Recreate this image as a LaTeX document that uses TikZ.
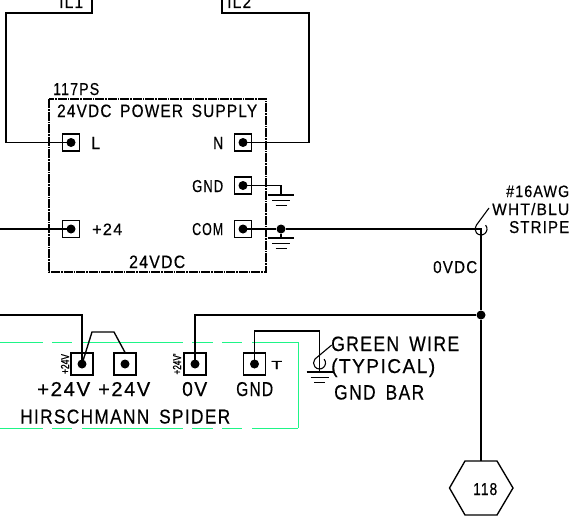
\documentclass[tikz,border=0pt]{standalone}
\usepackage{fontspec}
\usepackage{graphicx}
\setmainfont[LetterSpace=8,WordSpace=1.6,FakeBold=0.5]{Liberation Sans}
\newfontfamily\markfont[FakeBold=1.5]{Liberation Sans}
\usetikzlibrary{shapes.geometric}
\definecolor{spider}{RGB}{30,245,135}
\newcommand{\lbl}[3]{\resizebox{#1pt}{#2pt}{#3}}
\tikzset{
  wire/.style={line width=1.35pt,line join=miter},
  thin wire/.style={line width=1.1pt},
  term/.style={draw,line width=1.2pt,rectangle,inner sep=0pt},
  ps term/.style={term,minimum size=17pt},
  sp term/.style={term,minimum size=22pt},
  dotn/.style={circle,fill=black,inner sep=0pt,minimum size=9pt},
  lab/.style={inner sep=0pt,anchor=base west},
  pwr box/.style={line width=1.15pt,dash pattern=on 9pt off 1pt on 1.5pt off 1pt},
  spider line/.style={draw=spider,line width=.9pt},
  gbar/.style={line width=1.2pt}
}
\begin{document}
\begin{tikzpicture}[x=1pt,y=-1pt]
\path[use as bounding box] (0,0) rectangle (588,519);
\clip (0,0) rectangle (588,519);
% green outline of the Spider
\foreach \a/\b in {0/43,52/72,82/183,192/213,222/242,252/298}{
  \draw[spider line] (\a,342) -- (\b,342);
  \draw[spider line] (\a,428) -- (\b,428);
}
\draw[spider line] (298,342) -- (298,428);
% power supply box
\coordinate (psa) at (49,99);
\coordinate (psb) at (266,272);
\draw[pwr box] (psa) rectangle (psb);
% terminals
\node[ps term] (tL) at (71,142.5) {};
\node[ps term] (tN) at (243,142.5) {};
\node[ps term] (tG) at (243,185.5) {};
\node[ps term] (tC) at (243,229) {};
\node[ps term] (tP) at (71,229) {};
\node[sp term] (s1) at (82,364) {};
\node[sp term] (s2) at (125,364) {};
\node[sp term] (s3) at (195,364) {};
\node[sp term] (s4) at (254.5,364) {};
\foreach \n in {tL,tN,tG,tC,tP,s1,s2,s3,s4}
  \node[dotn] (d\n) at (\n.center) {};
% named free ends
\coordinate (il1) at (92,-2);
\coordinate (il2) at (222,-2);
\coordinate (wP) at (-2,229);
\coordinate (wS) at (-2,315);
\node[dotn] (jC) at (281,229) {};
\node[dotn] (j0) at (481,315) {};
\coordinate (hk) at (481,229);
\coordinate (g1) at (281,195);
\coordinate (g2) at (281,238);
\coordinate (g3) at (319.5,372);
% wires
\draw[wire] (il1) |- (6,13) |- (dtL.center);
\draw[wire] (il2) |- (309,13) |- (dtN.center);
\draw[wire] (wP) -- (dtP.center);
\draw[wire] (dtC.center) -- (jC) -- (hk) -- (j0);
\draw[wire] (jC) -- (g2);
\draw[wire] (dtG.center) -| (g1);
\draw[wire] (wS) -| (ds1.center);
\draw[wire] (ds1.center) -- (92,332) -- (114,332) -- (s2.north);
\draw[wire] (j0) -| (ds3.center);
\draw[wire] (ds4.center) |- (319.5,331) -- (g3);
% hooks
\draw[thin wire] (485.6,225.1) arc (-40:220:6) -- (489,208);
\draw[thin wire] (324.1,359.1) arc (-40:220:6) -- (331.7,345);
% grounds
\foreach \c in {g1,g2,g3}{
  \draw[gbar] ([xshift=-13pt]\c) -- ([xshift=13pt]\c);
  \draw[gbar] ([xshift=-9pt,yshift=-5.5pt]\c) -- ([xshift=9pt,yshift=-5.5pt]\c);
  \draw[gbar] ([xshift=-5.5pt,yshift=-10.5pt]\c) -- ([xshift=5.5pt,yshift=-10.5pt]\c);
}
% hexagon
\coordinate (h1) at (465,461);
\coordinate (h2) at (497,461);
\coordinate (h3) at (513,488);
\coordinate (h4) at (497,515);
\coordinate (h5) at (465,515);
\coordinate (h6) at (449.5,488);
\draw[wire] (h1) -- (h2) -- (h3) -- (h4) -- (h5) -- (h6) -- cycle;
\draw[wire] (j0) -- (481,461);
% labels
\node[lab] (il1t) at (59,8) {\lbl{24}{12}{IL1}};
\node[lab] (il2t) at (227,8) {\lbl{24}{12}{IL2}};
\node[lab] (ps) at (53,95) {\lbl{46}{12}{117PS}};
\node[lab] (pst) at (57,117) {\lbl{200}{12.5}{24VDC POWER SUPPLY}};
\node[lab] (lL) at (91,149) {\lbl{9}{12}{L}};
\node[lab] (lN) at (213,149) {\lbl{10}{12}{N}};
\node[lab] (lG) at (192,192) {\lbl{31}{12}{GND}};
\node[lab] (lC) at (192,235) {\lbl{31}{12}{COM}};
\node[lab] (lP) at (92,235) {\lbl{30}{11.5}{+24}};
\node[lab] (lV) at (129,268) {\lbl{56}{12.5}{24VDC}};
\node[lab] (a1) at (506,197) {\lbl{63}{11.5}{\#16AWG}};
\node[lab] (a2) at (492,215) {\lbl{77}{12}{WHT/BLU}};
\node[lab] (a3) at (509,233) {\lbl{60}{12}{STRIPE}};
\node[lab] (v0) at (433,273) {\lbl{44}{12}{0VDC}};
\node[lab] (t1) at (37,396) {\lbl{53}{14}{+24V}};
\node[lab] (t2) at (98,396) {\lbl{52}{14}{+24V}};
\node[lab] (t3) at (182,396) {\lbl{25}{14}{0V}};
\node[lab] (t4) at (236,396) {\lbl{37}{14}{GND}};
\node[lab] (sp) at (20,423.5) {\lbl{210}{14}{HIRSCHMANN SPIDER}};
\node[lab] (gw) at (331,351) {\lbl{128}{14.5}{GREEN WIRE}};
\node[lab] (ty) at (331,373) {\lbl{104}{14.5}{(TYPICAL)}};
\node[lab] (gb) at (334,399.5) {\lbl{90}{14.5}{GND BAR}};
\node[lab] (tt) at (271,369) {\lbl{11}{8}{T}};
\node[lab] (hx) at (473,495) {\lbl{24}{12}{118}};
\node[lab,rotate=90,anchor=base] (m1) at (69,364) {\lbl{20}{8}{\markfont +24V}};
\node[lab,rotate=90,anchor=base] (m2) at (181,364) {\lbl{21}{8}{\markfont +24V'}};
\end{tikzpicture}
\end{document}
